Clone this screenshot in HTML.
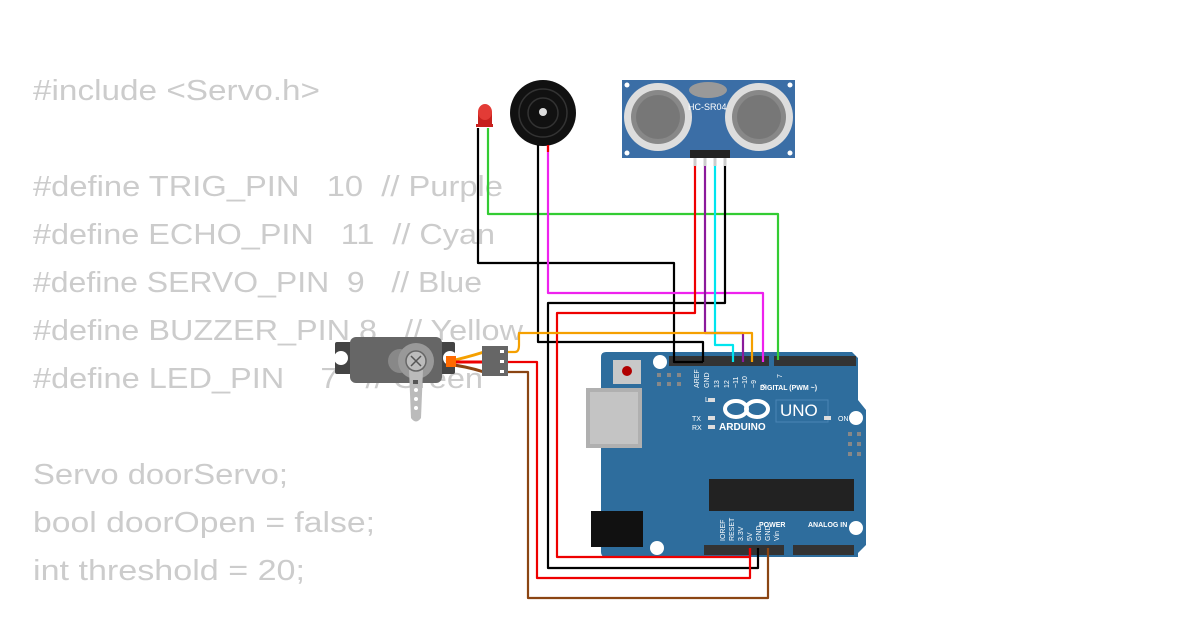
<!DOCTYPE html>
<html><head><meta charset="utf-8"><style>
html,body{margin:0;padding:0;background:#fff;}
svg{display:block;}
.pre{white-space:pre;}
</style></head><body>
<svg width="1200" height="630" viewBox="0 0 1200 630" xmlns="http://www.w3.org/2000/svg">
<rect width="1200" height="630" fill="#fff"/>
<g font-family="Liberation Sans, sans-serif" font-size="29" fill="#cccccc" class="pre">
<text class="pre" x="33" y="100" textLength="287" lengthAdjust="spacingAndGlyphs">#include &lt;Servo.h&gt;</text>
<text class="pre" x="33" y="196" textLength="470" lengthAdjust="spacingAndGlyphs">#define TRIG_PIN   10  // Purple</text>
<text class="pre" x="33" y="244" textLength="462" lengthAdjust="spacingAndGlyphs">#define ECHO_PIN   11  // Cyan</text>
<text class="pre" x="33" y="292" textLength="449" lengthAdjust="spacingAndGlyphs">#define SERVO_PIN  9   // Blue</text>
<text class="pre" x="33" y="340" textLength="490" lengthAdjust="spacingAndGlyphs">#define BUZZER_PIN 8   // Yellow</text>
<text class="pre" x="33" y="388" textLength="450" lengthAdjust="spacingAndGlyphs">#define LED_PIN    7   // Green</text>
<text x="33" y="484" textLength="255" lengthAdjust="spacingAndGlyphs">Servo doorServo;</text>
<text x="33" y="532" textLength="342" lengthAdjust="spacingAndGlyphs">bool doorOpen = false;</text>
<text x="33" y="580" textLength="272" lengthAdjust="spacingAndGlyphs">int threshold = 20;</text>
</g>

<!-- Arduino board -->
<g>
<path d="M606,352 H852 L858,358 V400 L866,410 V545 L858,553 V557 H606 Q601,557 601,552 V357 Q601,352 606,352 Z" fill="#2e6d9d"/>
<rect x="586" y="388" width="56" height="60" fill="#b0b0b0"/>
<rect x="590" y="392" width="48" height="52" fill="#c4c4c4"/>
<rect x="591" y="511" width="52" height="36" fill="#111"/>
<rect x="613" y="360" width="28" height="24" fill="#c8c8c8"/>
<circle cx="627" cy="371" r="5" fill="#b00000"/>
<circle cx="660" cy="362" r="7" fill="#fff"/>
<circle cx="657" cy="548" r="7" fill="#fff"/>
<circle cx="856" cy="418" r="7" fill="#fff"/>
<circle cx="856" cy="528" r="7" fill="#fff"/>
<g fill="#888"><rect x="657" y="373" width="4" height="4"/><rect x="667" y="373" width="4" height="4"/><rect x="677" y="373" width="4" height="4"/><rect x="657" y="382" width="4" height="4"/><rect x="667" y="382" width="4" height="4"/><rect x="677" y="382" width="4" height="4"/>
<rect x="848" y="432" width="4" height="4"/><rect x="857" y="432" width="4" height="4"/><rect x="848" y="442" width="4" height="4"/><rect x="857" y="442" width="4" height="4"/><rect x="848" y="452" width="4" height="4"/><rect x="857" y="452" width="4" height="4"/></g>
<rect x="669" y="356" width="100" height="10" fill="#333"/>
<rect x="774" y="356" width="82" height="10" fill="#333"/>
<rect x="704" y="545" width="80" height="10" fill="#333"/>
<rect x="793" y="545" width="61" height="10" fill="#333"/>
<rect x="709" y="479" width="145" height="32" fill="#222"/>
<g font-family="Liberation Sans, sans-serif" font-size="7" fill="#fff" font-weight="bold">
<text x="760" y="390">DIGITAL (PWM ~)</text>
<text x="759" y="527">POWER</text>
<text x="808" y="527">ANALOG IN</text>
<text x="719" y="430" font-size="10">ARDUINO</text>
</g>
<g font-family="Liberation Sans, sans-serif" font-size="7" fill="#fff">
<text transform="translate(699,388) rotate(-90)">AREF</text>
<text transform="translate(709,388) rotate(-90)">GND</text>
<text transform="translate(719,388) rotate(-90)">13</text>
<text transform="translate(729,388) rotate(-90)">12</text>
<text transform="translate(738,388) rotate(-90)">~11</text>
<text transform="translate(747,388) rotate(-90)">~10</text>
<text transform="translate(756,388) rotate(-90)">~9</text>
<text transform="translate(766,388) rotate(-90)">8</text>
<text transform="translate(782,378) rotate(-90)">7</text>
<text transform="translate(725,541) rotate(-90)">IOREF</text>
<text transform="translate(734,541) rotate(-90)">RESET</text>
<text transform="translate(743,541) rotate(-90)">3.3V</text>
<text transform="translate(752,541) rotate(-90)">5V</text>
<text transform="translate(761,541) rotate(-90)">GND</text>
<text transform="translate(770,541) rotate(-90)">GND</text>
<text transform="translate(779,541) rotate(-90)">Vin</text>
<text x="705" y="402">L</text><text x="692" y="421">TX</text><text x="692" y="430">RX</text>
<text x="838" y="421">ON</text>
</g>
<ellipse cx="736" cy="409" rx="11" ry="8" fill="none" stroke="#fff" stroke-width="4"/>
<ellipse cx="757" cy="409" rx="11" ry="8" fill="none" stroke="#fff" stroke-width="4"/>
<rect x="776" y="400" width="52" height="22" fill="none" stroke="#4a85b5" stroke-width="1"/>
<text x="780" y="416" font-family="Liberation Sans, sans-serif" font-size="17" fill="#fff">UNO</text>
<rect x="708" y="398" width="7" height="4" fill="#ddd"/><rect x="708" y="416" width="7" height="4" fill="#ddd"/><rect x="708" y="425" width="7" height="4" fill="#ddd"/><rect x="824" y="416" width="7" height="4" fill="#ddd"/>
</g>

<!-- Ultrasonic sensor -->
<rect x="622" y="80" width="173" height="78" fill="#3b6ea6"/>
<ellipse cx="708" cy="90" rx="19" ry="8" fill="#999"/>
<circle cx="658" cy="117" r="34" fill="#ddd"/><circle cx="658" cy="117" r="27" fill="#888"/><circle cx="658" cy="117" r="22" fill="#777"/>
<circle cx="759" cy="117" r="34" fill="#ddd"/><circle cx="759" cy="117" r="27" fill="#888"/><circle cx="759" cy="117" r="22" fill="#777"/>
<text x="688" y="110" font-family="Liberation Sans, sans-serif" font-size="9" fill="#fff">HC-SR04</text>
<g fill="#fff"><circle cx="627" cy="85" r="2.5"/><circle cx="790" cy="85" r="2.5"/><circle cx="627" cy="153" r="2.5"/><circle cx="790" cy="153" r="2.5"/></g>
<rect x="690" y="150" width="40" height="8" fill="#222"/>

<!-- buzzer -->
<circle cx="543" cy="113" r="33" fill="#111"/>
<circle cx="543" cy="113" r="24" fill="none" stroke="#333" stroke-width="1.5"/>
<circle cx="543" cy="113" r="15" fill="none" stroke="#333" stroke-width="1.5"/>
<circle cx="543" cy="112" r="4" fill="#ddd"/>
<!-- LED -->
<rect x="478" y="112" width="14" height="14" fill="#c7211e"/>
<ellipse cx="485" cy="112" rx="7" ry="8" fill="#e33b36"/>
<rect x="476" y="124" width="17" height="3" fill="#c7211e"/>

<!-- wires -->
<g fill="none" stroke-width="2.2" stroke-linejoin="round">
<path d="M488,128 V214 H778 V360" stroke="#33cc33"/>
<path d="M478,128 V263 H674 V362 H703" stroke="#000"/>
<path d="M538,145 V342 H703 V362" stroke="#000"/>
<path d="M548,145 V293 H763 V362" stroke="#ee22ee"/>
<path d="M548,145 V152" stroke="#e00"/>
<path d="M725,160 V303 H548 V568 H758 V548" stroke="#000"/>
<path d="M695,160 V313 H557 V557 H750 V548" stroke="#e00"/>
<path d="M705,160 V333 H743 V362" stroke="#8b1a9b"/>
<path d="M715,160 V345 H733 V362" stroke="#00e5ee"/>
<path d="M505,352 H515 Q519,352 519,345 V333 H752 V362" stroke="#f5a000"/>
<path d="M505,362 H537 V578 H750 V548" stroke="#e00"/>
<path d="M505,372 H528 V598 H768 V548" stroke="#8b4513"/>
</g>
<g stroke="#ccc" stroke-width="3"><path d="M695,158V166M705,158V166M715,158V166M725,158V166"/></g>

<!-- servo -->
<rect x="335" y="342" width="120" height="32" rx="2" fill="#444"/>
<circle cx="341" cy="358" r="7" fill="#fff"/>
<circle cx="450" cy="358" r="7" fill="#fff"/>
<rect x="350" y="337" width="92" height="46" rx="6" fill="#666"/>
<circle cx="400" cy="361" r="12" fill="#888"/>
<circle cx="416" cy="361" r="18" fill="#999"/>
<path d="M409,370 L411,418 Q416,425 421,418 L423,370 Z" fill="#bbb"/>
<circle cx="416" cy="361" r="10" fill="#bbb" stroke="#666" stroke-width="1.5"/>
<path d="M411,356 L421,366 M421,356 L411,366" stroke="#555" stroke-width="1.5"/>
<rect x="413" y="380" width="5" height="4" fill="#555"/>
<g fill="#fff"><circle cx="416" cy="390" r="2"/><circle cx="416" cy="399" r="2"/><circle cx="416" cy="408" r="2"/></g>
<path d="M446,362 Q465,358 484,352" stroke="#f5a000" stroke-width="3" fill="none"/>
<path d="M446,362 H484" stroke="#e00" stroke-width="3"/>
<path d="M446,364 Q465,366 484,372" stroke="#8b4513" stroke-width="3" fill="none"/>
<rect x="446" y="356" width="10" height="11" fill="#ff6a00"/>
<rect x="482" y="346" width="26" height="30" fill="#666"/>
<g fill="#fff"><rect x="500" y="350" width="4" height="3"/><rect x="500" y="360" width="4" height="3"/><rect x="500" y="370" width="4" height="3"/></g>
</svg>
</body></html>
